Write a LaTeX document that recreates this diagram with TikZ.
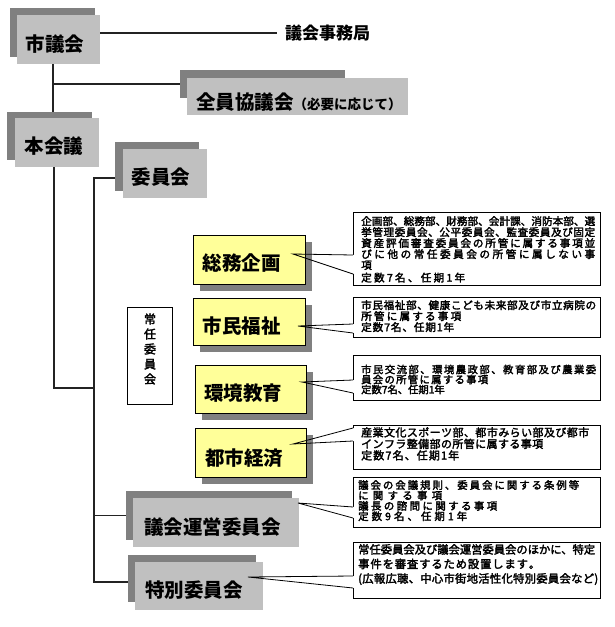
\documentclass[tikz,border=0pt]{standalone}
\usepackage{fontspec}
\setmainfont{Noto Sans CJK JP}
\newfontfamily\cfont[FakeBold=2.5]{Noto Sans CJK JP}
\usepackage{graphicx}
\usetikzlibrary{calc,shadows}
\definecolor{lightg}{RGB}{192,192,192}
\definecolor{darkg}{RGB}{128,128,128}
\definecolor{yel}{RGB}{255,255,153}
\definecolor{linec}{RGB}{35,35,35}
\def\spreadaux#1{\ifx#1\relax\else#1\hfil\expandafter\spreadaux\fi}
\newcommand\spl[2]{\hbox to #1{\spreadaux#2\relax\unskip}}
\newcommand\tightls{\lineskiplimit=-5pt\relax}
\newcommand\ptr[3]{%
  \begin{scope}\clip (349,0) rectangle (358,627);
    \fill[white] (#1) -- ($(#2)+(1.2,0)$) -- ($(#3)+(1.2,0)$) -- cycle;
  \end{scope}
  \draw[line width=0.8pt] (#2) -- (#1) -- (#3);}
\tikzset{
  gfront/.style={fill=lightg, inner sep=0, outer sep=0, anchor=north west},
  gback/.style={fill=darkg, inner sep=0, outer sep=0, anchor=north west},
  ybox/.style={fill=yel, draw=black, line width=0.8pt, inner sep=0, outer sep=0, anchor=north west,
    drop shadow={fill=darkg, opacity=1, shadow xshift=7pt, shadow yshift=-7pt}},
  bigtxt/.style={font=\fontsize{19.5}{19.5}\selectfont\bfseries, inner sep=0},
  callout/.style={draw=black, fill=white, line width=0.8pt, inner sep=0, outer sep=0, anchor=north west, minimum width=247pt},
  ctext/.style={anchor=north west, inner sep=0, align=left},
  conn/.style={draw=linec, line width=1.2pt},
}
\begin{document}
\begin{tikzpicture}[x=1pt,y=-1pt]
\fill[white] (0,0) rectangle (615,627);
\useasboundingbox (0,0) rectangle (615,627);

% 市議会
\node[gback, minimum width=85pt, minimum height=49pt] (shigiS) at (10,8) {};
\node[gfront, minimum width=83pt, minimum height=49pt] (shigi) at (17,15) {};
\node[bigtxt] (shigiT) at (55,44) {市議会};

% 議会事務局
\node[font=\fontsize{17}{17}\selectfont\bfseries, anchor=west, inner sep=0] (jim) at (285,33) {議会事務局};
\coordinate (jimL) at (277,33);
\draw[conn] (shigi.east |- jimL) -- (jimL);

% 全員協議会
\node[gback, minimum width=165pt, minimum height=28pt] (zenS) at (180,70) {};
\node[gfront, minimum width=221pt, minimum height=37pt] (zen) at (187,78) {};
\node[anchor=west, inner sep=0] (zenT) at (196,102) {\fontsize{19.5}{19.5}\selectfont\bfseries 全員協議会\fontsize{13.5}{13.5}\selectfont（必要に応じて）};

% 本会議
\node[gback, minimum width=85pt, minimum height=48pt] (honkS) at (7,112) {};
\node[gfront, minimum width=84pt, minimum height=49pt] (honk) at (15,118) {};
\node[bigtxt] (honkT) at (54,146) {本会議};

% trunk 1
\coordinate (tA) at (53,0);
\draw[conn] (tA |- shigi.south) -- (tA |- honkS.north);
\draw[conn] (tA |- zenS.west) -- (zenS.west);

% 委員会
\node[gback, minimum width=84pt, minimum height=49pt] (iinS) at (115,142) {};
\node[gfront, minimum width=84pt, minimum height=49pt] (iin) at (123,149) {};
\node[bigtxt] (iinT) at (161,177) {委員会};

% 議会運営委員会
\node[gback, minimum width=166pt, minimum height=49pt] (ungS) at (126,491) {};
\node[gfront, minimum width=166pt, minimum height=49pt] (ung) at (133,498) {};
\node[bigtxt] (ungT) at (212.5,527) {議会運営委員会};

% 特別委員会
\node[gback, minimum width=128pt, minimum height=47pt] (tokuS) at (128,555) {};
\node[gfront, minimum width=128pt, minimum height=48pt] (toku) at (135,562) {};
\node[bigtxt] (tokuT) at (194,590) {特別委員会};

% trunk 2
\coordinate (tB) at (54,388);
\coordinate (tC) at (94,388);
\coordinate (iinL) at (94,178);
\coordinate (tokuL) at (94,582);
\draw[conn] (tB |- honk.south) -- (tB) -- (tC);
\draw[conn] (iinL -| iinS.west) -- (iinL) -- (tokuL) -- (tokuL -| tokuS.west);
\draw[conn] (tC |- ungS.west) -- (ungS.west);

% 常任委員会
\node[draw=black, line width=0.8pt, minimum width=45pt, minimum height=97pt, anchor=north west, inner sep=0] (jonin) at (127,307) {};
\node[align=center, font={\cfont\fontsize{12}{15}\selectfont}, inner sep=0] (joninT) at (150,349) {常\\任\\委\\員\\会};

% yellow committees
\node[ybox, minimum width=112pt, minimum height=49pt] (soumu) at (193,235) {};
\node[bigtxt] (soumuT) at (241.5,263) {総務企画};
\node[ybox, minimum width=112pt, minimum height=47pt] (shimin) at (193,298) {};
\node[bigtxt] (shiminT) at (241.5,326) {市民福祉};
\node[ybox, minimum width=111pt, minimum height=48pt] (kankyo) at (195,365) {};
\node[bigtxt] (kankyoT) at (243,393) {環境教育};
\node[ybox, minimum width=111pt, minimum height=49pt] (toshi) at (195,428) {};
\node[bigtxt] (toshiT) at (244,458) {都市経済};

% callouts
\node[callout, minimum height=73pt] (c1) at (353,212) {};
\node[callout, minimum height=40pt] (c2) at (353,297) {};
\node[callout, minimum height=45pt] (c3) at (353,355) {};
\node[callout, minimum height=44pt] (c4) at (353,425) {};
\node[callout, minimum height=50pt] (c5) at (353,477) {};
\node[callout, minimum height=56pt] (c6) at (353,542) {};

\coordinate (p1) at (293,254); \coordinate (c1a) at (353,255); \coordinate (c1b) at (353,274);
\coordinate (p2) at (298,326); \coordinate (c2a) at (353,324); \coordinate (c2b) at (353,333);
\coordinate (p3) at (302,382); \coordinate (c3a) at (353,380); \coordinate (c3b) at (353,393);
\coordinate (p4) at (293,444); \coordinate (c4a) at (353,428); \coordinate (c4b) at (353,441);
\coordinate (p5) at (298,503); \coordinate (c5a) at (353,507); \coordinate (c5b) at (353,518);
\coordinate (p6) at (248,577); \coordinate (c6a) at (353,576); \coordinate (c6b) at (353,588);
\ptr{p1}{c1a}{c1b}
\ptr{p2}{c2a}{c2b}
\ptr{p3}{c3a}{c3b}
\ptr{p4}{c4a}{c4b}
\ptr{p5}{c5a}{c5b}
\ptr{p6}{c6a}{c6b}

\node[ctext, font={\cfont\fontsize{10.6}{11}\selectfont\tightls}] (c1t) at (361,216)
  {\spl{234pt}{企画部、総務部、財務部、会計課、消防本部、選}\\
   \spl{234pt}{挙管理委員会、公平委員会、監査委員及び固定}\\
   \spl{234pt}{資産評価審査委員会の所管に属する事項並}\\
   \spl{234pt}{びに他の常任委員会の所管に属しない事}\\
   項\\[1.5pt]
   \spl{104pt}{定数7名、任期1年}};
\node[ctext, font={\cfont\fontsize{10.6}{11}\selectfont\tightls}] (c2t) at (361,300)
  {\spl{235pt}{市民福祉部、健康こども未来部及び市立病院の}\\
   \spl{100pt}{所管に属する事項}\\
   \spl{93pt}{定数7名、任期1年}};
\node[ctext, font={\cfont\fontsize{10.3}{10}\selectfont\tightls}] (c3t) at (361,364.5)
  {\spl{235pt}{市民交流部、環境農政部、教育部及び農業委}\\
   \spl{127pt}{員会の所管に属する事項}\\
   定数7名、任期1年};
\node[ctext, font={\cfont\fontsize{11}{11.5}\selectfont\tightls}] (c4t) at (361,427)
  {\spl{228pt}{産業文化スポーツ部、都市みらい部及び都市}\\
   \spl{182pt}{インフラ整備部の所管に属する事項}\\
   \spl{98pt}{定数7名、任期1年}};
\node[ctext, font={\cfont\fontsize{10.4}{10.4}\selectfont\tightls}] (c5t) at (358,480)
  {\spl{221pt}{議会の会議規則、委員会に関する条例等}\\
   \spl{84pt}{に関する事項}\\
   \spl{139pt}{議長の諮問に関する事項}\\
   \spl{109pt}{定数9名、任期1年}};
\node[ctext, font={\cfont\fontsize{11.3}{14.5}\selectfont\tightls}] (c6t) at (358,544)
  {常任委員会及び議会運営委員会のほかに、特定\\
   \spl{182pt}{事件を審査するため設置します。}\\
   \spl{240pt}{(広報広聴、中心市街地活性化特別委員会など)}};
\end{tikzpicture}
\end{document}
